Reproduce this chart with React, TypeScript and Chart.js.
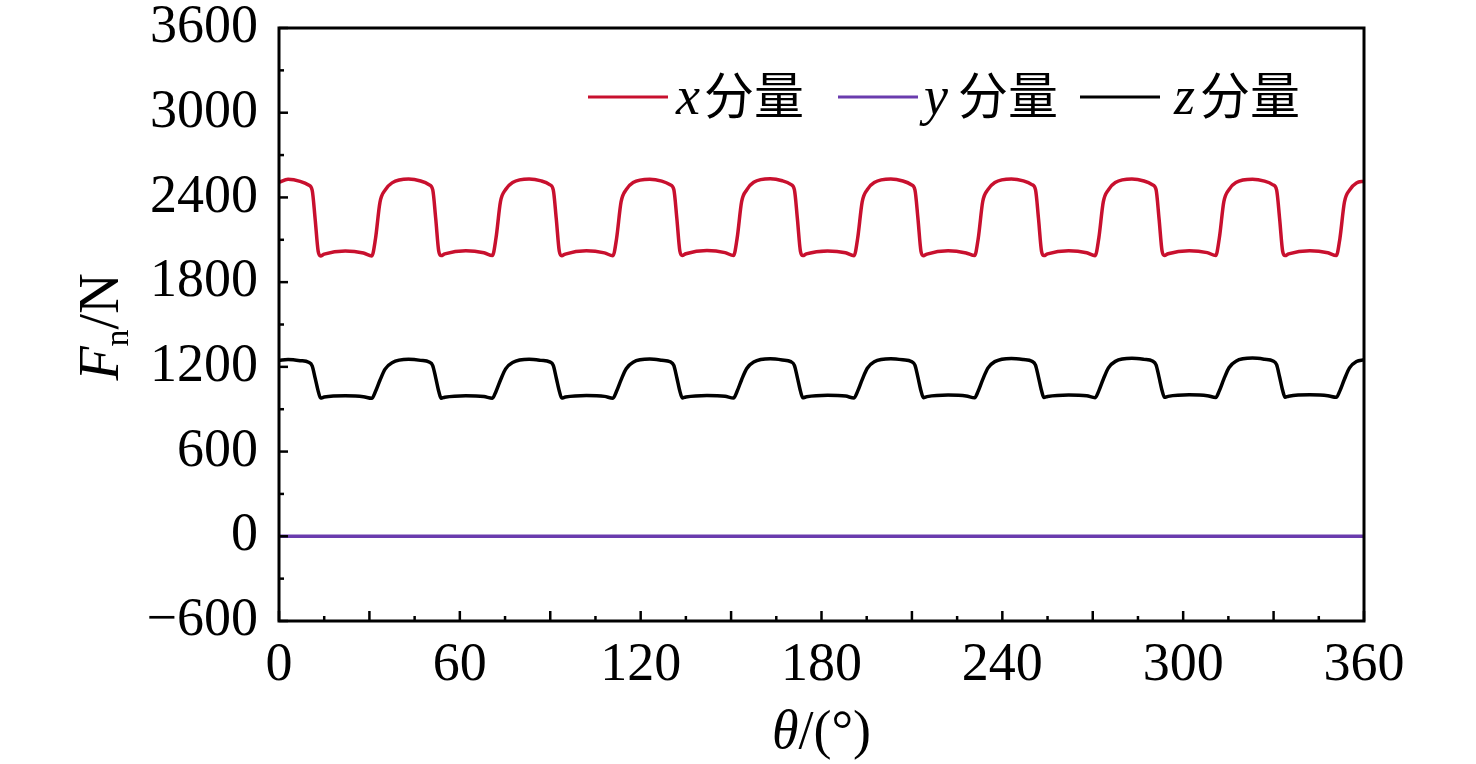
import React, { useEffect, useRef } from "react";
import { Chart, registerables } from "chart.js";

Chart.register(...registerables);

// ---- data ----
const thetaDeg = [
  0, 3, 7, 9.8, 11, 12, 13, 13.8, 15, 22, 28, 30.8, 32, 33.5, 35.2, 37.5,
  43, 47, 49.8, 51, 52, 53, 53.8, 55, 62, 68, 70.8, 72, 73.5, 75.2, 77.5,
  83, 87, 89.8, 91, 92, 93, 93.8, 95, 102, 108, 110.8, 112, 113.5, 115.2, 117.5,
  123, 127, 129.8, 131, 132, 133, 133.8, 135, 142, 148, 150.8, 152, 153.5, 155.2, 157.5,
  163, 167, 169.8, 171, 172, 173, 173.8, 175, 182, 188, 190.8, 192, 193.5, 195.2, 197.5,
  203, 207, 209.8, 211, 212, 213, 213.8, 215, 222, 228, 230.8, 232, 233.5, 235.2, 237.5,
  243, 247, 249.8, 251, 252, 253, 253.8, 255, 262, 268, 270.8, 272, 273.5, 275.2, 277.5,
  283, 287, 289.8, 291, 292, 293, 293.8, 295, 302, 308, 310.8, 312, 313.5, 315.2, 317.5,
  323, 327, 329.8, 331, 332, 333, 333.8, 335, 342, 348, 350.8, 352, 353.5, 355.2, 357.5, 360,
];

const xComponent = [
  2506, 2528, 2514, 2488, 2452, 2245, 2018, 1986, 1998, 2020, 2006, 1986, 2105, 2365, 2452, 2503,
  2530, 2516, 2490, 2455, 2250, 2020, 1988, 2000, 2023, 2008, 1988, 2112, 2372, 2456, 2506,
  2531, 2517, 2491, 2454, 2248, 2019, 1987, 1999, 2022, 2007, 1987, 2108, 2368, 2455, 2505,
  2529, 2515, 2489, 2456, 2252, 2021, 1989, 2001, 2024, 2009, 1988, 2110, 2370, 2454, 2507,
  2532, 2518, 2492, 2455, 2249, 2020, 1988, 2000, 2021, 2008, 1987, 2111, 2369, 2456, 2505,
  2530, 2516, 2490, 2454, 2251, 2019, 1987, 1999, 2023, 2007, 1988, 2109, 2371, 2455, 2506,
  2531, 2517, 2491, 2455, 2250, 2020, 1988, 2000, 2022, 2008, 1987, 2110, 2368, 2454, 2505,
  2530, 2516, 2490, 2456, 2249, 2021, 1989, 2001, 2023, 2009, 1988, 2112, 2370, 2456, 2506,
  2529, 2515, 2489, 2454, 2250, 2020, 1988, 2000, 2022, 2008, 1988, 2108, 2366, 2452, 2503, 2514,
];

const zComponent = [
  1247, 1252, 1244, 1232, 1207, 1120, 1028, 979, 986, 995, 989, 977, 1025, 1105, 1184, 1229,
  1253, 1246, 1234, 1209, 1122, 1027, 978, 985, 996, 990, 978, 1026, 1107, 1186, 1231,
  1254, 1246, 1235, 1210, 1121, 1029, 979, 986, 997, 991, 978, 1027, 1108, 1187, 1233,
  1255, 1247, 1236, 1210, 1123, 1028, 980, 987, 998, 992, 979, 1027, 1109, 1188, 1234,
  1257, 1249, 1237, 1211, 1124, 1030, 981, 988, 999, 993, 980, 1028, 1110, 1190, 1236,
  1258, 1250, 1238, 1212, 1125, 1031, 982, 989, 1000, 994, 981, 1029, 1111, 1191, 1237,
  1260, 1252, 1240, 1213, 1126, 1032, 983, 990, 1001, 995, 982, 1030, 1112, 1193, 1239,
  1261, 1253, 1241, 1214, 1127, 1033, 984, 991, 1002, 996, 983, 1031, 1113, 1194, 1240,
  1262, 1254, 1242, 1215, 1128, 1034, 985, 992, 1002, 996, 984, 1030, 1112, 1193, 1238, 1250,
];

const yTheta = [0, 360];
const yComponent = [0, 0];

const seriesLetters = ["x", "y", "z"];
const seriesSuffix = "分量";

const RED = "#c8102e";
const PURPLE = "#6a3cae";
const BLACK = "#000000";

const SERIF = "'Liberation Serif', 'Times New Roman', serif";
const CJK = "'Noto Sans CJK SC', 'Noto Sans CJK JP', sans-serif";

const toPoints = (xs: number[], ys: number[]) => xs.map((x, i) => ({ x, y: ys[i] }));

export default function App() {
  const ref = useRef<HTMLCanvasElement>(null);

  useEffect(() => {
    const decor = {
      id: "decor",
      afterDraw(chart: any) {
        const { ctx, chartArea: a, scales } = chart;
        const xs = scales.x;
        const ys = scales.y;
        ctx.save();
        ctx.strokeStyle = "#000";
        ctx.lineCap = "butt";
        // inward tick marks
        ctx.lineWidth = 2.5;
        xs.ticks.forEach((t: any) => {
          const px = xs.getPixelForValue(t.value);
          const len = t.value % 30 === 0 ? 10 : 5;
          ctx.beginPath();
          ctx.moveTo(px, a.bottom);
          ctx.lineTo(px, a.bottom - len);
          ctx.stroke();
        });
        ys.ticks.forEach((t: any) => {
          const py = ys.getPixelForValue(t.value);
          const len = t.value % 600 === 0 ? 9 : 5;
          ctx.beginPath();
          ctx.moveTo(a.left, py);
          ctx.lineTo(a.left + len, py);
          ctx.stroke();
        });
        // frame
        ctx.lineWidth = 3;
        ctx.strokeRect(a.left, a.top, a.right - a.left, a.bottom - a.top);

        // legend
        const colors = [RED, PURPLE, BLACK];
        const lineStarts = [588, 838, 1080];
        const letterX = [676, 924, 1174];
        const cjkX = [704, 958, 1200];
        colors.forEach((c, i) => {
          ctx.strokeStyle = c;
          ctx.lineWidth = 3;
          ctx.beginPath();
          ctx.moveTo(lineStarts[i], 97);
          ctx.lineTo(lineStarts[i] + 80, 97);
          ctx.stroke();
          ctx.fillStyle = "#000";
          ctx.textBaseline = "alphabetic";
          ctx.textAlign = "left";
          ctx.font = `italic 54px ${SERIF}`;
          ctx.fillText(seriesLetters[i], letterX[i], 114);
          ctx.font = `50px ${CJK}`;
          ctx.fillText(seriesSuffix, cjkX[i], 114);
        });

        // y title: F_n/N
        ctx.fillStyle = "#000";
        ctx.save();
        ctx.translate(118, 327);
        ctx.rotate(-Math.PI / 2);
        ctx.textBaseline = "alphabetic";
        ctx.textAlign = "left";
        const fF = `italic 56px ${SERIF}`;
        const fSub = `34px ${SERIF}`;
        const fReg = `56px ${SERIF}`;
        ctx.font = fF;
        const wF = ctx.measureText("F").width;
        ctx.font = fSub;
        const wn = ctx.measureText("n").width;
        ctx.font = fReg;
        const wR = ctx.measureText("/N").width;
        let cx = -(wF + wn + wR) / 2;
        ctx.font = fF;
        ctx.fillText("F", cx, 0);
        cx += wF;
        ctx.font = fSub;
        ctx.fillText("n", cx, 10);
        cx += wn;
        ctx.font = fReg;
        ctx.fillText("/N", cx, 0);
        ctx.restore();

        // x title: θ/(°)
        ctx.textBaseline = "alphabetic";
        ctx.textAlign = "left";
        ctx.font = `italic 54px ${SERIF}`;
        const wT = ctx.measureText("θ").width;
        ctx.font = `54px ${SERIF}`;
        const wU = ctx.measureText("/(°)").width;
        const centerX = (a.left + a.right) / 2;
        let tx = centerX - (wT + wU) / 2;
        ctx.font = `italic 54px ${SERIF}`;
        ctx.fillText("θ", tx, 748);
        tx += wT;
        ctx.font = `54px ${SERIF}`;
        ctx.fillText("/(°)", tx, 748);
        ctx.restore();
      },
    };

    const common = {
      pointRadius: 0,
      borderWidth: 3.5,
      fill: false,
      cubicInterpolationMode: "monotone" as const,
    };

    const chart = new Chart(ref.current!, {
      type: "line",
      data: {
        datasets: [
          { label: "x分量", data: toPoints(thetaDeg, xComponent), borderColor: RED, ...common },
          { label: "y分量", data: toPoints(yTheta, yComponent), borderColor: PURPLE, ...common },
          { label: "z分量", data: toPoints(thetaDeg, zComponent), borderColor: BLACK, ...common },
        ],
      },
      options: {
        animation: false,
        responsive: false,
        devicePixelRatio: 1,
        layout: { padding: { top: 28, right: 112, left: 0, bottom: 0 } },
        plugins: { legend: { display: false }, tooltip: { enabled: false } },
        scales: {
          x: {
            type: "linear",
            min: 0,
            max: 360,
            afterFit: (s: any) => {
              s.height = 143;
              s.paddingLeft = 0;
              s.paddingRight = 0;
            },
            grid: { display: false, drawTicks: false },
            border: { display: false },
            ticks: {
              stepSize: 15,
              autoSkip: false,
              maxRotation: 0,
              padding: 12,
              color: "#000",
              font: { family: SERIF, size: 54 },
              callback: (v: any) => (v % 60 === 0 ? String(v) : ""),
            },
          },
          y: {
            min: -600,
            max: 3600,
            afterFit: (s: any) => {
              s.width = 279;
              s.paddingTop = 0;
              s.paddingBottom = 0;
            },
            grid: { display: false, drawTicks: false },
            border: { display: false },
            ticks: {
              stepSize: 300,
              autoSkip: false,
              padding: 21,
              color: "#000",
              font: { family: SERIF, size: 54 },
              callback: (v: any) =>
                v % 600 === 0 ? (v < 0 ? "\u2212" + Math.abs(v) : String(v)) : "",
            },
          },
        },
      },
      plugins: [decor],
    });
    return () => chart.destroy();
  }, []);

  return (
    <div style={{ position: "absolute", left: 0, top: 0, width: 1476, height: 764, background: "#fff" }}>
      <canvas ref={ref} width={1476} height={764} style={{ display: "block", width: 1476, height: 764 }} />
    </div>
  );
}
